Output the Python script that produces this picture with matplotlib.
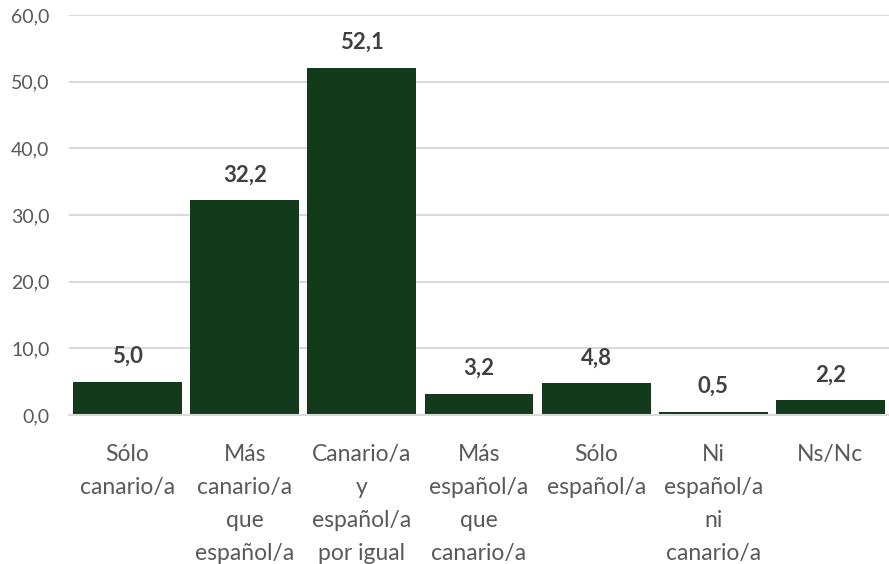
import matplotlib
matplotlib.use("Agg")
import matplotlib.pyplot as plt
from matplotlib.ticker import FuncFormatter

categories = ["Sólo\ncanario/a", "Más\ncanario/a\nque\nespañol/a", "Canario/a\ny\nespañol/a\npor igual",
              "Más\nespañol/a\nque\ncanario/a", "Sólo\nespañol/a", "Ni\nespañol/a\nni\ncanario/a", "Ns/Nc"]
values = [5.0, 32.2, 52.1, 3.2, 4.8, 0.5, 2.2]
yticks = [0, 10, 20, 30, 40, 50, 60]

plt.rcParams['font.family'] = ['Lato', 'DejaVu Sans']

fig = plt.figure(figsize=(8.89, 5.64), dpi=100)
ax = fig.add_axes([69/889, 1-415/564, 1-69/889, 400/564])

x = list(range(len(categories)))
ax.bar(x, values, width=0.93, color='#133a1a', zorder=3)
for xi, v in zip(x, values):
    ax.annotate(f"{v:.1f}".replace('.', ','), (xi, v), xytext=(0, 18), textcoords='offset points',
                ha='center', va='center', fontsize=16, fontweight='bold', color='#404040')

ax.set_xlim(-0.5, len(categories) - 0.5)
ax.set_ylim(0, 60)
ax.set_yticks(yticks)
ax.yaxis.set_major_formatter(FuncFormatter(lambda v, p: f"{v:.1f}".replace('.', ',')))
ax.set_xticks(x)
ax.set_xticklabels(categories, fontsize=16.5, color='#595959', linespacing=1.7)
ax.tick_params(axis='y', labelsize=14, colors='#595959', length=0, pad=14)
ax.tick_params(axis='x', length=0, pad=21)
ax.grid(axis='y', color='#d9d9d9', linewidth=1.5, zorder=0)
for s in ['top', 'right', 'left']:
    ax.spines[s].set_visible(False)
ax.spines['bottom'].set_color('#d9d9d9')
ax.spines['bottom'].set_linewidth(1.5)
ax.spines['bottom'].set_zorder(4)

fig.savefig("out.png", dpi=100)
